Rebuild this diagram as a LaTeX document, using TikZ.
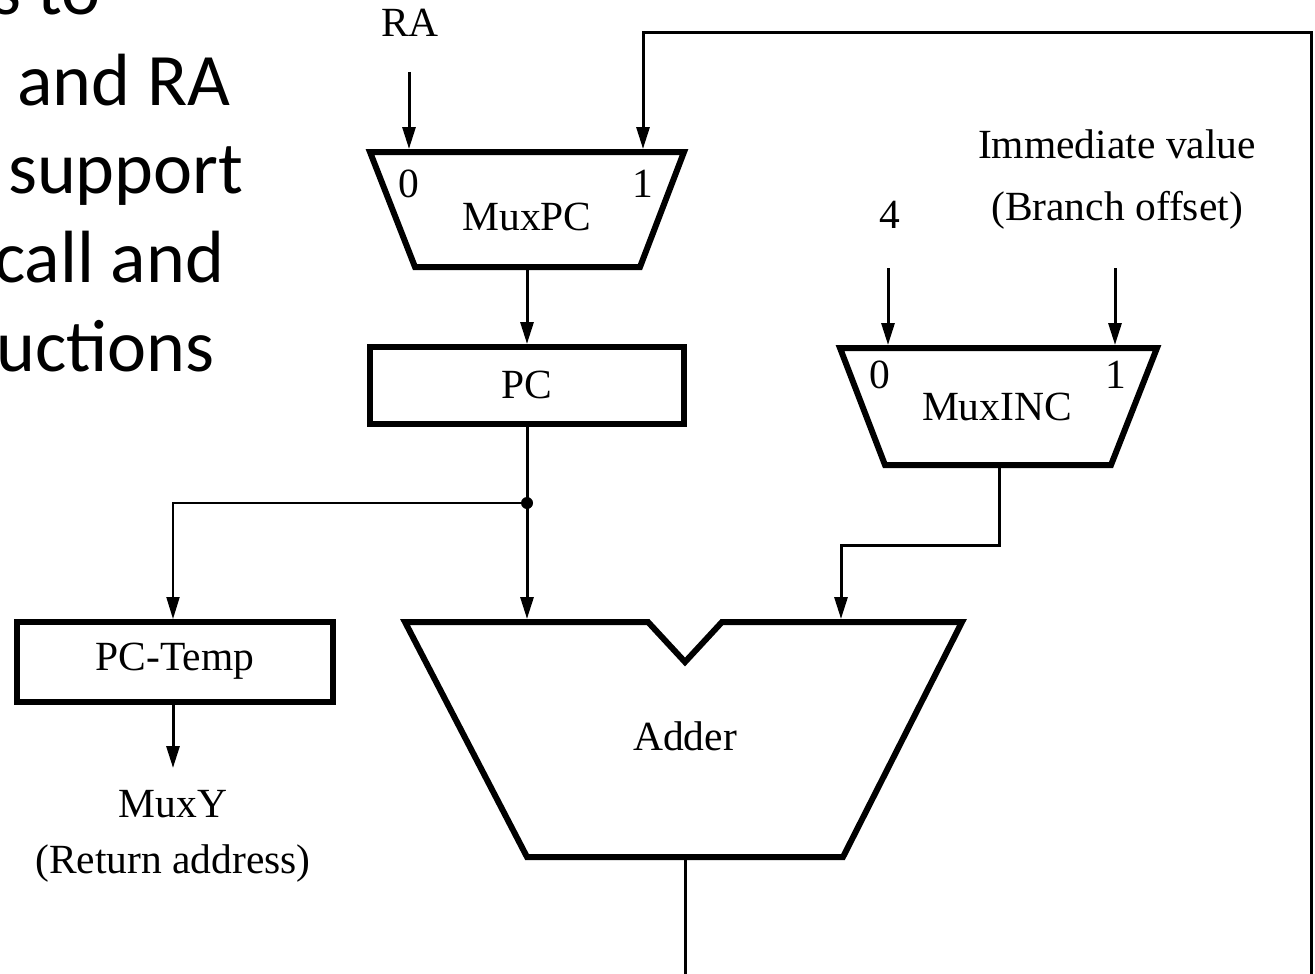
\documentclass[tikz,border=0pt]{standalone}
\usepackage{fontspec}
\setmainfont{Liberation Serif}
\newfontfamily\slidefont{Carlito}
\usetikzlibrary{arrows.meta}
\begin{document}
\begin{tikzpicture}[x=1pt,y=-1pt,
  unit/.style={draw, line width=6pt, line join=miter},
  wire/.style={line width=3pt, line join=miter},
  thinwire/.style={line width=2pt, line join=miter},
  arr/.style={-{Triangle[length=22pt,width=13pt]}},
  lbl/.style={font=\fontsize{41.5}{48}\selectfont, inner sep=0pt, anchor=base},
  slide/.style={font=\slidefont\fontsize{74}{89}\selectfont, inner sep=0pt, anchor=base west}]
\useasboundingbox (0,0) rectangle (1315,974);
\clip (0,0) rectangle (1315,974);

% slide text fragments
\node[slide] (s1) at (-8,15) {s to};
\node[slide] (s2) at (17,105) {and RA};
\node[slide] (s3) at (8,193) {support};
\node[slide] (s4) at (-6,282) {call and};
\node[slide] (s5) at (-4,371) {uctions};

% MuxPC
\draw[unit] (370,152) -- (684,152) -- (640,267) -- (415,267) -- cycle;
\node[lbl] (mpc0l) at (409,197) {0};
\node[lbl] (mpc1l) at (643,197) {1};
\node[lbl] (mpcl) at (527,230) {MuxPC};
\coordinate (mpc0) at (409,149);
\coordinate (mpc1) at (643,149);
\coordinate (mpcout) at (527,270);

% RA
\node[lbl] (ra) at (410,37) {RA};
\coordinate (raS) at (409,72);
\draw[wire,arr] (raS) -- (mpc0);

% PC
\node[unit, minimum width=314, minimum height=77, inner sep=0pt] (pc) at (527,385.5) {};
\node[lbl] (pcl) at (527,398) {PC};
\draw[wire,arr] (mpcout) -- (pc.north);

% junction
\coordinate (jn) at (527,503);
\coordinate (jl) at (173,503);
\fill (jn) circle (6);

% PC-Temp
\node[unit, minimum width=316, minimum height=80, inner sep=0pt] (pct) at (175,662) {};
\node[lbl] (pctl) at (175,670) {PC-Temp};
\coordinate (pctin) at (173,619);
\coordinate (pctout) at (173,705);
\coordinate (muxy) at (173,768);
\node[lbl] (muxyl) at (173,817) {MuxY};
\node[lbl] (retl) at (173,873) {(Return address)};

% Adder
\draw[unit] (405,622) -- (648,622) -- (685,662) -- (722,622) -- (962,622) -- (843,857) -- (527,857) -- cycle;
\node[lbl] (addl) at (685,750) {Adder};
\coordinate (add0) at (527,619);
\coordinate (add1) at (841,619);
\coordinate (addout) at (685,860);

% MuxINC
\draw[unit] (840,348) -- (1157,348) -- (1111,465) -- (885,465) -- cycle;
\node[lbl] (minc0l) at (880,388) {0};
\node[lbl] (minc1l) at (1116,388) {1};
\node[lbl] (mincl) at (997,420) {MuxINC};
\coordinate (minc0) at (888,345);
\coordinate (minc1) at (1115,345);
\coordinate (mincout) at (999,468);
\coordinate (mincbend) at (999,545);
\coordinate (addbend) at (841,545);

\node[lbl] (four) at (890,228) {4};
\coordinate (fourS) at (888,268);
\node[lbl] (imm1) at (1117,158) {Immediate value};
\node[lbl] (imm2) at (1117,220) {(Branch offset)};
\coordinate (immS) at (1115,268);

% connectors
\draw[wire] (pc.south) -- (jn);
\draw[wire,arr] (jn) -- (add0);
\draw[thinwire,arr] (jn) -- (jl) -- (pctin);
\draw[wire,arr] (pctout) -- (muxy);
\draw[wire,arr] (fourS) -- (minc0);
\draw[wire,arr] (immS) -- (minc1);
\draw[wire,arr] (mincout) -- (mincbend) -- (addbend) -- (add1);

% feedback loop
\coordinate (lb) at (685,1000);
\coordinate (rb) at (1311,1000);
\coordinate (rt) at (1311,33);
\coordinate (lt) at (643,33);
\draw[wire,arr] (addout) -- (lb) -- (rb) -- (rt) -- (lt) -- (mpc1);
\end{tikzpicture}
\end{document}
